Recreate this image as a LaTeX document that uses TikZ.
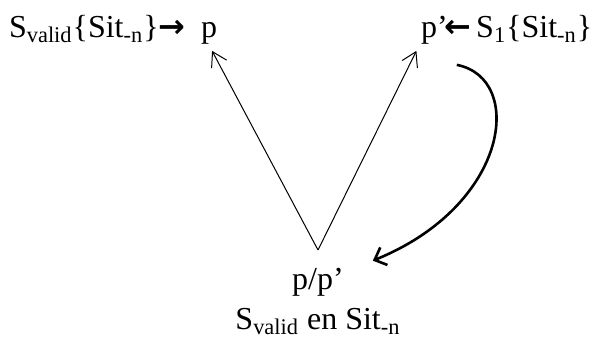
\documentclass[tikz,border=0pt]{standalone}
\usepackage{fontspec}
\setmainfont{Liberation Serif}
\newfontfamily\arrowfont{DejaVu Sans}
\usetikzlibrary{arrows.meta}
\newcommand{\sitn}{Sit\textsubscript{-n}}
\begin{document}
\begin{tikzpicture}[x=0.5pt, y=-0.5pt,
    every node/.style={font=\fontsize{16}{19}\selectfont},
    thinarrow/.style={line width=0.5pt, -{Straight Barb[length=7pt, width=8.5pt]}},
    bentarrow/.style={line width=1.3pt, -{Straight Barb[length=5pt, width=9.5pt]}}]
    \useasboundingbox (0,0) rectangle (604,338);
    % top labels
    \node[anchor=base west] (ltext) at (2,37) {S\textsubscript{valid}\{\sitn\}{\arrowfont\bfseries →}};
    \node[anchor=base west] (p) at (194,37) {p};
    \node[anchor=base west] (pp) at (414,37) {p’};
    \node[anchor=base west] (rtext) at (437,37) {{\arrowfont\bfseries ←}\,S\textsubscript{1}\{\sitn\}};
    % bottom labels
    \node[anchor=base] (pq) at (318,289) {p/p’};
    \node[anchor=base] (sv) at (318,329) {S\textsubscript{valid} en \sitn};
    \coordinate (v) at (318,250);
    \draw[thinarrow] (v) -- ([xshift=1.5pt]p.south);
    \draw[thinarrow] (v) -- ([xshift=-9pt]pp.south);
    \draw[bentarrow] ([shift={(1pt,-7pt)}]pp.south east) .. controls (525,78) and (510,205) .. ([xshift=11pt]pq.north east);
\end{tikzpicture}
\end{document}
